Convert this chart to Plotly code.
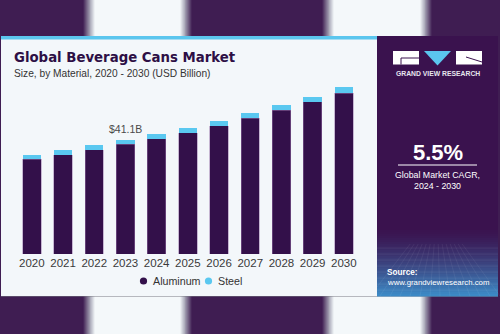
import plotly.graph_objects as go

# --- data -------------------------------------------------------------
YEARS = [2020, 2021, 2022, 2023, 2024, 2025, 2026, 2027, 2028, 2029, 2030]
ALUMINUM = [34.1, 35.8, 37.6, 39.5, 41.6, 43.7, 46.2, 49.0, 51.8, 54.8, 58.0]
STEEL = [1.6, 1.7, 1.7, 1.6, 1.7, 1.6, 1.7, 1.7, 1.8, 1.9, 2.1]
SERIES = ["Aluminum", "Steel"]
LABEL_YEAR = 2023
TITLE = "Global Beverage Cans Market"
SUBTITLE = "Size, by Material, 2020 - 2030 (USD Billion)"
CAGR = "5.5%"
CAGR_TEXT = "Global Market CAGR,<br>2024 - 2030"

# --- styling ------------------------------------------------------------
W, H = 500, 334
BG_PURPLE = (63, 29, 82)
STRIPE_WHITE = (244, 248, 250)
CARD = "#f3f7fa"
ACCENT = "#5bc6ee"
ALU_COLOR = "#33104a"
STEEL_COLOR = "#5ac8f0"
PANEL_TOP = (58, 18, 78)
PANEL_BOTTOM = (60, 140, 200)


def px(x):
    return x / W


def py(y):
    return 1 - y / H


def rgb(c):
    return "rgb(%d,%d,%d)" % tuple(int(round(v)) for v in c)


def mix(a, b, t):
    return tuple(a[i] + (b[i] - a[i]) * t for i in range(3))


def rect(x0, y0, x1, y1, color, layer="below"):
    return dict(type="rect", xref="paper", yref="paper",
                x0=px(x0), x1=px(x1), y0=py(y1), y1=py(y0),
                fillcolor=color, line=dict(width=0), layer=layer)


shapes = []

# soft vertical light stripes in the backdrop
for (a, b) in [(83, 192), (322, 432)]:
    edge = 12
    shapes.append(rect(a + edge, 0, b - edge, H, rgb(STRIPE_WHITE)))
    for i in range(edge):
        t = (i + 0.5) / edge
        c = mix(BG_PURPLE, (170, 170, 185), min(1, t * 1.6)) if t < 0.6 else \
            mix((170, 170, 185), STRIPE_WHITE, (t - 0.6) / 0.4)
        shapes.append(rect(a + i, 0, a + i + 1, H, rgb(c)))
        shapes.append(rect(b - i - 1, 0, b - i, H, rgb(c)))

# card and its accent line
shapes.append(rect(1, 36, 498, 296, CARD))
shapes.append(rect(1, 296, 498, 297, "rgba(120,120,130,0.5)"))
shapes.append(rect(1, 36, 378, 39.5, ACCENT))

# right info panel with a purple-to-blue fade at the bottom
shapes.append(rect(377, 36, 498, 296, rgb(PANEL_TOP)))
fade_start, fade_end = 228, 296
steps = 34
for i in range(steps):
    y0 = fade_start + (fade_end - fade_start) * i / steps
    y1 = fade_start + (fade_end - fade_start) * (i + 1) / steps
    t = ((i + 0.5) / steps) ** 1.4
    shapes.append(rect(377, y0, 498, y1 + 0.5, rgb(mix(PANEL_TOP, PANEL_BOTTOM, t))))
# faint grid texture in the fade
for k in range(8):
    yy = 248 + k * 6
    shapes.append(dict(type="line", xref="paper", yref="paper",
                       x0=px(377), x1=px(498), y0=py(yy), y1=py(yy),
                       line=dict(color="rgba(255,255,255,0.12)", width=0.6),
                       layer="below"))
for k in range(14):
    xb = 370 + k * 10
    shapes.append(dict(type="line", xref="paper", yref="paper",
                       x0=px(437 + (xb - 437) * 0.4), x1=px(xb), y0=py(244), y1=py(296),
                       line=dict(color="rgba(255,255,255,0.10)", width=0.6),
                       layer="below"))

# logo marks
shapes.append(rect(393, 51, 419, 64.5, "white"))
shapes.append(rect(456, 51, 482, 64.5, "white"))
shapes.append(dict(type="line", xref="paper", yref="paper",
                   x0=px(401), x1=px(419), y0=py(58), y1=py(58),
                   line=dict(color=rgb(PANEL_TOP), width=1), layer="below"))
shapes.append(dict(type="line", xref="paper", yref="paper",
                   x0=px(401), x1=px(401), y0=py(58), y1=py(64.5),
                   line=dict(color=rgb(PANEL_TOP), width=1), layer="below"))
shapes.append(dict(type="line", xref="paper", yref="paper",
                   x0=px(466), x1=px(482), y0=py(57), y1=py(62),
                   line=dict(color=rgb(PANEL_TOP), width=1), layer="below"))
shapes.append(dict(type="path", xref="paper", yref="paper",
                   path="M %f %f L %f %f L %f %f Z" % (px(424), py(51), px(451), py(51),
                                                        px(437.5), py(65.5)),
                   fillcolor=ACCENT, line=dict(width=0), layer="below"))
# divider under the CAGR figure
shapes.append(dict(type="line", xref="paper", yref="paper",
                   x0=px(398), x1=px(477), y0=py(165), y1=py(165),
                   line=dict(color="white", width=1), layer="below"))

# legend markers
LEGEND_DOTS = [143.5, 208.5]
LEGEND_Y = 281
for xc, col in zip(LEGEND_DOTS, [ALU_COLOR, STEEL_COLOR]):
    shapes.append(dict(type="circle", xref="paper", yref="paper",
                       x0=px(xc - 3.6), x1=px(xc + 3.6),
                       y0=py(LEGEND_Y + 3.6), y1=py(LEGEND_Y - 3.6),
                       fillcolor=col, line=dict(width=0)))

# --- plot geometry --------------------------------------------------------
PITCH = 31.2
FIRST_CENTER = 31.85
X_LEFT = FIRST_CENTER - PITCH / 2
X_RIGHT = X_LEFT + PITCH * len(YEARS)
Y_BASE = 254
PX_PER_UNIT = 2.774
Y_MAX = 70
Y_TOP = Y_BASE - Y_MAX * PX_PER_UNIT

fig = go.Figure()
fig.add_trace(go.Bar(
    x=YEARS, y=ALUMINUM, name=SERIES[0], width=0.59,
    marker=dict(color=ALU_COLOR, line=dict(color="rgba(150,115,170,0.7)", width=0.7)),
    showlegend=False, hoverinfo="skip"))
fig.add_trace(go.Bar(
    x=YEARS, y=STEEL, name=SERIES[1], width=0.59,
    marker=dict(color=STEEL_COLOR, line=dict(width=0)),
    showlegend=False, hoverinfo="skip"))

annotations = []
idx = YEARS.index(LABEL_YEAR)
total = ALUMINUM[idx] + STEEL[idx]
annotations.append(dict(x=LABEL_YEAR, y=total, xref="x", yref="y",
                        text="$%.1fB" % total, showarrow=False, yanchor="bottom",
                        yshift=3, font=dict(family="Liberation Sans, Arial", size=10.5,
                                            color="#4a4a4a")))

annotations.append(dict(x=px(12), y=py(57.5), xref="paper", yref="paper",
                        xanchor="left", yanchor="middle", showarrow=False,
                        text="<b>%s</b>" % TITLE,
                        font=dict(family="DejaVu Sans", size=13.3, color="#2d0f45")))
annotations.append(dict(x=px(12), y=py(73), xref="paper", yref="paper",
                        xanchor="left", yanchor="middle", showarrow=False,
                        text=SUBTITLE,
                        font=dict(family="Liberation Sans, Arial", size=10.2, color="#333333")))

for xc, name in zip(LEGEND_DOTS, SERIES):
    annotations.append(dict(x=px(xc + 7), y=py(LEGEND_Y), xref="paper", yref="paper",
                            xanchor="left", yanchor="middle", showarrow=False, text=name,
                            font=dict(family="Liberation Sans Narrow, Arial Narrow, sans-serif",
                                      size=10.7, color="#333333")))

annotations.append(dict(x=px(437.5), y=py(73.5), xref="paper", yref="paper",
                        xanchor="center", yanchor="middle", showarrow=False,
                        text="<b>GRAND VIEW RESEARCH</b>",
                        font=dict(family="Liberation Sans, Arial", size=6.8, color="#e6e6ee")))
annotations.append(dict(x=px(437.5), y=py(152), xref="paper", yref="paper",
                        xanchor="center", yanchor="middle", showarrow=False,
                        text="<b>%s</b>" % CAGR,
                        font=dict(family="Liberation Sans, Arial", size=22, color="white")))
annotations.append(dict(x=px(437.5), y=py(180.5), xref="paper", yref="paper",
                        xanchor="center", yanchor="middle", showarrow=False,
                        text=CAGR_TEXT, align="center",
                        font=dict(family="Liberation Sans, Arial", size=8.8, color="white")))
annotations.append(dict(x=px(385), y=py(272), xref="paper", yref="paper",
                        xanchor="left", yanchor="middle", showarrow=False,
                        text="<b>Source:</b>",
                        font=dict(family="Liberation Sans, Arial", size=8.2, color="white")))
annotations.append(dict(x=px(385), y=py(282), xref="paper", yref="paper",
                        xanchor="left", yanchor="middle", showarrow=False,
                        text="www.grandviewresearch.com",
                        font=dict(family="Liberation Sans, Arial", size=7.8, color="white")))

fig.update_layout(
    width=W, height=H, margin=dict(l=0, r=0, t=0, b=0),
    paper_bgcolor=rgb(BG_PURPLE), plot_bgcolor="rgba(0,0,0,0)",
    barmode="stack", showlegend=False,
    shapes=shapes, annotations=annotations,
    xaxis=dict(domain=[px(X_LEFT), px(X_RIGHT)], range=[YEARS[0] - 0.5, YEARS[-1] + 0.5],
               tickmode="array", tickvals=YEARS, ticktext=[str(y) for y in YEARS],
               showgrid=False, zeroline=False, showline=False, ticks="",
               tickfont=dict(family="Liberation Sans Narrow, Arial Narrow, sans-serif",
                             size=11.5, color="#3a3a3a"),
               fixedrange=True),
    yaxis=dict(domain=[py(Y_BASE), py(Y_TOP)], range=[0, Y_MAX], visible=False,
               showgrid=False, zeroline=False, fixedrange=True),
)

fig.write_html("out.html", config={"displayModeBar": False})
